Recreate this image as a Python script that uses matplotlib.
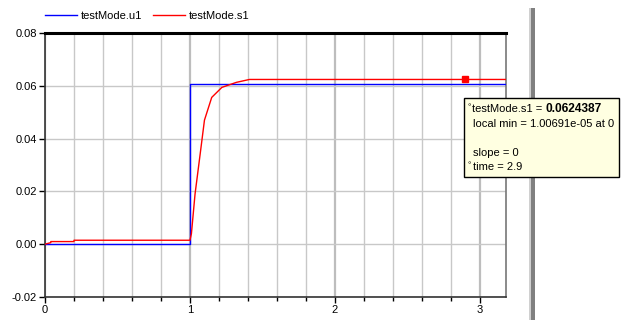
import matplotlib
matplotlib.use("Agg")
import matplotlib.pyplot as plt
from matplotlib.patches import Rectangle
from matplotlib.lines import Line2D

# ---- data ----
t_u1 = [0.0, 1.0, 1.0, 3.2]
u1 = [0.0, 0.0, 0.0605, 0.0605]

t_s1 = [0.0, 0.04, 0.04, 0.2, 0.2, 1.0, 1.01, 1.035, 1.07, 1.10, 1.15, 1.22, 1.32, 1.41, 3.2]
s1 = [0.0, 0.0006, 0.001, 0.001, 0.0015, 0.0015, 0.004, 0.019, 0.034, 0.047, 0.0556, 0.0594,
      0.0613, 0.0624, 0.0624]

marker_t = [2.9]
marker_v = [0.0624387]

y_ticks = [-0.02, 0.00, 0.02, 0.04, 0.06, 0.08]
y_labels = ["-0.02", "0.00", "0.02", "0.04", "0.06", "0.08"]
x_major = [0, 1, 2, 3]
x_minor = [0.2, 0.4, 0.6, 0.8, 1.2, 1.4, 1.6, 1.8, 2.2, 2.4, 2.6, 2.8, 3.2]

legend_names = ["testMode.u1", "testMode.s1"]
tooltip_lines = ["testMode.s1 = ", "0.0624387", "local min = 1.00691e-05 at 0",
                 "slope = 0", "time = 2.9"]

plt.rcParams['font.family'] = ['Liberation Sans', 'DejaVu Sans']

W, H = 622, 320
fig = plt.figure(figsize=(W / 100, H / 100), dpi=100)
fig.patch.set_facecolor("white")

L, R, T, B = 45, 506, 33, 297
ax = fig.add_axes([L / W, 1 - B / H, (R - L) / W, (B - T) / H])
ax.set_xlim(0, 3.18)
ax.set_ylim(-0.02, 0.08)

# grid
for x in x_minor + x_major:
    if x <= 3.18:
        ax.axvline(x, color="#c8c8c8" if x not in x_major else "#bdbdbd",
                   lw=1.0 if x not in x_major else 1.6, zorder=0)
for y in y_ticks:
    ax.axhline(y, color="#c8c8c8", lw=1.0, zorder=0)

ax.plot(t_u1, u1, color="#0000ff", lw=1.0, zorder=3)
ax.plot(t_s1, s1, color="#ff0000", lw=1.0, zorder=4)
ax.plot(marker_t, marker_v, marker="s", color="#ff0000", ms=5, ls="none", zorder=5)

ax.set_yticks(y_ticks)
ax.set_yticklabels(y_labels)
ax.set_xticks(x_major)
ax.set_xticklabels([str(v) for v in x_major])
ax.set_xticks([v for v in x_minor if v <= 3.18], minor=True)
ax.tick_params(axis="both", which="major", labelsize=8, length=4, width=1.0,
               color="black", labelcolor="black", pad=2)
ax.tick_params(axis="x", which="minor", length=3, width=1.0, color="black")

for side in ["left", "bottom"]:
    ax.spines[side].set_color("#333333")
    ax.spines[side].set_linewidth(1.2)
ax.spines["top"].set_color("black")
ax.spines["top"].set_linewidth(2.2)
ax.spines["right"].set_color("#777777")
ax.spines["right"].set_linewidth(1.2)

# legend
handles = [Line2D([], [], color="#0000ff", lw=1.0), Line2D([], [], color="#ff0000", lw=1.0)]
fig.legend(handles, legend_names, loc="center left", bbox_to_anchor=(45 / W, 1 - 16 / H),
           ncol=2, frameon=False, fontsize=8, handlelength=2.9, handletextpad=0.3,
           columnspacing=1.0, borderaxespad=0, borderpad=0)

# splitter bar
fig.add_artist(Rectangle((529 / W, 0), 2 / W, 1 - 8 / H, transform=fig.transFigure,
                         facecolor="#d0d0d0", edgecolor="none"))
fig.add_artist(Rectangle((531 / W, 0), 4 / W, 1 - 8 / H, transform=fig.transFigure,
                         facecolor="#808080", edgecolor="none"))

# tooltip
bx0, bx1, by0, by1 = 464, 619, 98, 177
fig.add_artist(Rectangle((bx0 / W, 1 - by1 / H), (bx1 - bx0) / W, (by1 - by0) / H,
                         transform=fig.transFigure, facecolor="#ffffe1",
                         edgecolor="black", lw=1.0, zorder=10))
fs = 8.0
fig.text(467 / W, 1 - 108 / H, "°", fontsize=6, va="center", zorder=11)
t1 = fig.text(472 / W, 1 - 109 / H, tooltip_lines[0], fontsize=fs, va="center", zorder=11)
fig.canvas.draw()
bb = t1.get_window_extent()
fig.text(bb.x1 / W, 1 - 109 / H, tooltip_lines[1], fontsize=8.6, va="center",
         fontweight="bold", zorder=11)
fig.text(473 / W, 1 - 124 / H, tooltip_lines[2], fontsize=fs, va="center", zorder=11)
fig.text(473 / W, 1 - 153 / H, tooltip_lines[3], fontsize=fs, va="center", zorder=11)
fig.text(467 / W, 1 - 166 / H, "°", fontsize=6, va="center", zorder=11)
fig.text(473 / W, 1 - 167 / H, tooltip_lines[4], fontsize=fs, va="center", zorder=11)

fig.savefig("out.png", dpi=100)
